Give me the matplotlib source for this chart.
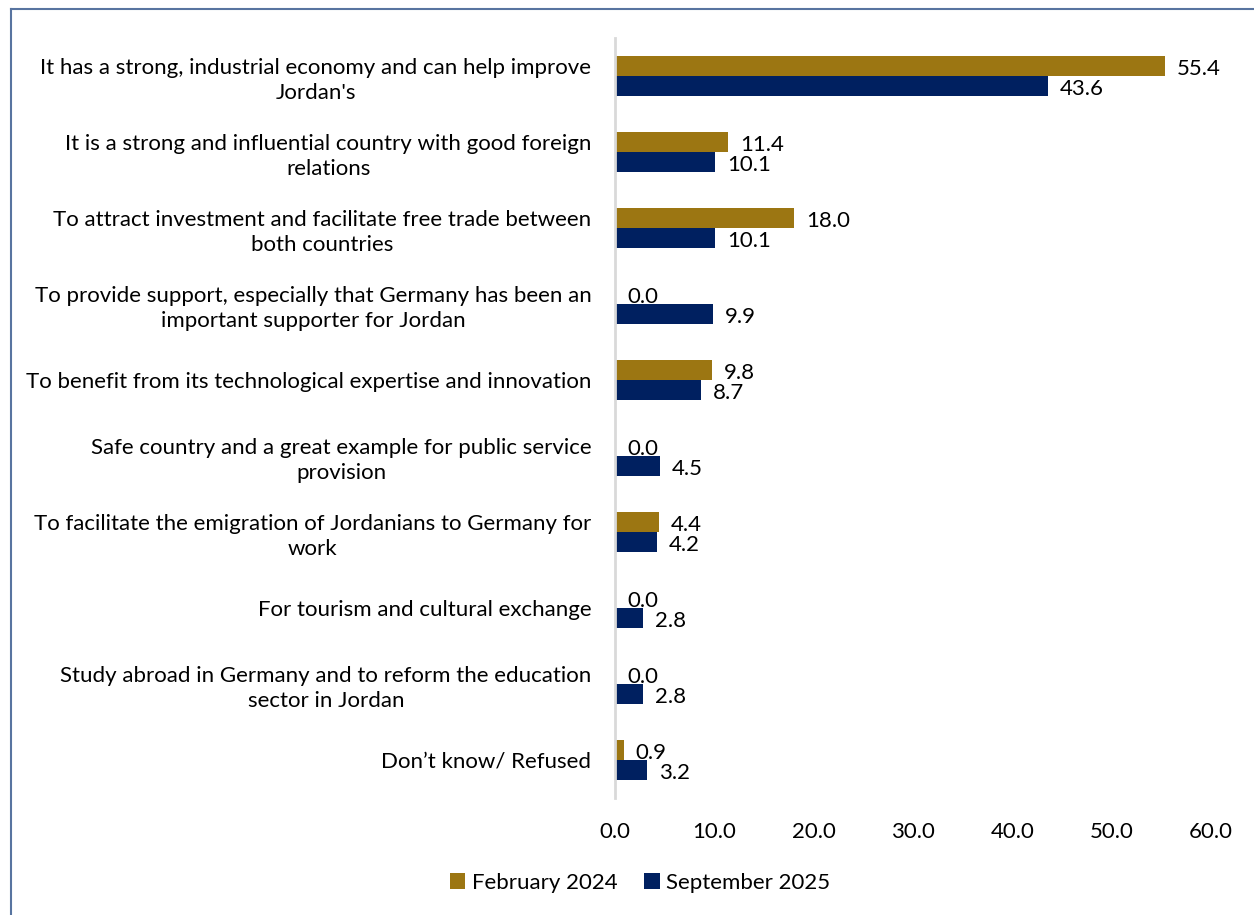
import numpy as np
import matplotlib
matplotlib.use("Agg")
import matplotlib.pyplot as plt
from matplotlib.lines import Line2D

plt.rcParams['font.family'] = ['Lato', 'DejaVu Sans']

categories = [
    "It has a strong, industrial economy and can help improve\nJordan's",
    "It is a strong and influential country with good foreign\nrelations",
    "To attract investment and facilitate free trade between\nboth countries",
    "To provide support, especially that Germany has been an\nimportant supporter for Jordan",
    "To benefit from its technological expertise and innovation",
    "Safe country and a great example for public service\nprovision",
    "To facilitate the emigration of Jordanians to Germany for\nwork",
    "For tourism and cultural exchange",
    "Study abroad in Germany and to reform the education\nsector in Jordan",
    "Don\u2019t know/ Refused",
]
feb_2024 = [55.4, 11.4, 18.0, 0.0, 9.8, 0.0, 4.4, 0.0, 0.0, 0.9]
sep_2025 = [43.6, 10.1, 10.1, 9.9, 8.7, 4.5, 4.2, 2.8, 2.8, 3.2]
xticks = [0, 10, 20, 30, 40, 50, 60]

gold = '#9C7612'
navy = '#002060'
fs = 16

W, H = 1254, 915
fig = plt.figure(figsize=(W / 100, H / 100), dpi=100)
ax = fig.add_axes([615 / W, 1 - 798 / H, (1211 - 615) / W, 760 / H])

y = np.arange(len(categories))
h = 0.26
ax.barh(y - h / 2, feb_2024, height=h, color=gold, label='February 2024')
ax.barh(y + h / 2, sep_2025, height=h, color=navy, label='September 2025')

for yi, v in zip(y, feb_2024):
    ax.text(v + 1.2, yi - h / 2 + 0.04, f"{v:.1f}", va='center', ha='left', fontsize=fs)
for yi, v in zip(y, sep_2025):
    ax.text(v + 1.2, yi + h / 2 + 0.04, f"{v:.1f}", va='center', ha='left', fontsize=fs)

ax.set_ylim(len(categories) - 0.5, -0.5)
ax.set_xlim(0, 60)
ax.set_yticks(y)
ax.set_yticklabels(categories, fontsize=fs, multialignment='center', linespacing=1.3)
ax.set_xticks(xticks)
ax.set_xticklabels([f"{t:.1f}" for t in xticks], fontsize=fs)
ax.tick_params(axis='both', length=0)
ax.tick_params(axis='y', pad=17)
ax.tick_params(axis='x', pad=17)
for s in ['top', 'right', 'bottom']:
    ax.spines[s].set_visible(False)
ax.spines['left'].set_color('#d9d9d9')
ax.spines['left'].set_linewidth(2)

fig.legend(loc='center', bbox_to_anchor=(640 / W, 1 - 883 / H), ncol=2, frameon=False,
           fontsize=fs, handlelength=0.7, handleheight=0.7, handletextpad=0.3,
           columnspacing=1.2)

# frame lines on the left and top edges
fig.add_artist(Line2D([11 / W, 11 / W], [0, 1 - 9 / H], transform=fig.transFigure,
                      color='#5874a0', linewidth=1.5))
fig.add_artist(Line2D([11 / W, 1], [1 - 9 / H, 1 - 9 / H], transform=fig.transFigure,
                      color='#5874a0', linewidth=1.5))

fig.savefig('out.png', dpi=100)
